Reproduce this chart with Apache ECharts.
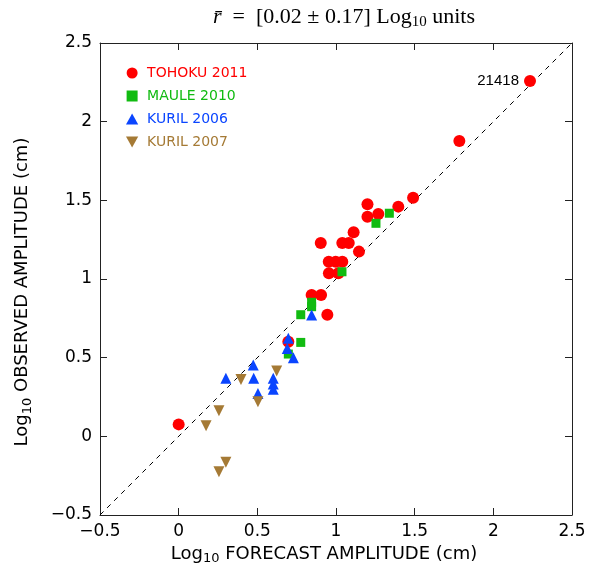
<!DOCTYPE html>
<html><head><meta charset="utf-8">
<script src="https://cdn.jsdelivr.net/npm/echarts@6/dist/echarts.min.js"></script>
<style>html,body{margin:0;padding:0;background:#fff}#c{width:589px;height:574px}</style>
</head><body><div id="c"></div>
<script>
const axisTicks = [-0.5, 0, 0.5, 1, 1.5, 2, 2.5];
const tohoku = [[2.233,2.259],[1.784,1.877],[1.49,1.517],[1.396,1.46],[1.20,1.475],[1.20,1.396],[1.269,1.413],[1.112,1.297],[0.903,1.229],[1.04,1.229],[1.081,1.229],[1.146,1.174],[0.954,1.11],[0.998,1.11],[1.04,1.11],[0.955,1.036],[1.015,1.036],[0.845,0.898],[0.905,0.898],[0.945,0.773],[0.697,0.601],[0.0,0.076]];
const maule = [[1.339,1.418],[1.254,1.354],[1.038,1.046],[0.845,0.852],[0.845,0.824],[0.776,0.773],[0.776,0.597],[0.697,0.523]];
const kuril2006 = [[0.845,0.771],[0.697,0.623],[0.69,0.559],[0.729,0.50],[0.474,0.453],[0.30,0.369],[0.477,0.369],[0.601,0.369],[0.601,0.332],[0.601,0.299],[0.504,0.273]];
const kuril2007 = [[0.396,0.362],[0.623,0.415],[0.504,0.22],[0.256,0.163],[0.174,0.067],[0.30,-0.165],[0.256,-0.225]];
const annotated = {index: 0, text: '21418'};
const refLine = [[-0.5,-0.5],[2.5,2.5]];

const font = 'DejaVu Sans';
const fmt = v => String(v).replace('-', '\u2212');
const subRich = {
  n: {fontFamily: font, fontSize: 18, color: '#000'},
  s: {fontFamily: font, fontSize: 13, color: '#000', padding: [10,0,0,0]}
};
const downTri = 'path://M0,0 L10,0 L5,9 Z';
const upTri = 'path://M5,0 L10,9 L0,9 Z';
function axisCommon(show, pos) {
  return {
    type: 'value', min: -0.5, max: 2.5, interval: 0.5, position: pos,
    axisLine: {show: true, onZero: false, lineStyle: {color: '#222', width: 1}},
    axisTick: {show: true, inside: true, length: 7, lineStyle: {color: '#222'}},
    axisLabel: {show: show, fontFamily: font, fontSize: 17, color: '#000', formatter: fmt, margin: 8},
    splitLine: {show: false}
  };
}
const chart = echarts.init(document.getElementById('c'));
const tohokuData = tohoku.map((p, i) => i === annotated.index ? {value: p, label: {show: true, position: 'left', distance: 5, formatter: annotated.text, fontFamily: 'Liberation Sans', fontSize: 15, color: '#000'}} : p);
chart.setOption({
  animation: false,
  title: {
    text: '{i|r\u0304}  =  [0.02 \u00b1 0.17] Log{s|10} units',
    left: 339, top: 0, textAlign: 'center',
    textStyle: {fontFamily: 'Liberation Serif', fontSize: 22, fontWeight: 'normal', color: '#000',
      rich: {i: {fontFamily: 'Liberation Serif', fontStyle: 'italic', fontSize: 22, color: '#000'},
             s: {fontFamily: 'Liberation Serif', fontSize: 15, color: '#000', padding: [10,0,0,0]}}}
  },
  grid: {left: 100, right: 17, top: 43, bottom: 59},
  legend: {
    orient: 'vertical', left: 121, top: 61, itemGap: 9, itemWidth: 20, itemHeight: 11,
    symbolKeepAspect: true,
    textStyle: {fontFamily: font, fontSize: 14},
    data: [
      {name: 'TOHOKU 2011', icon: 'circle', textStyle: {color: '#ff0000'}},
      {name: 'MAULE 2010', icon: 'path://M0,0 L8,0 L8,8 L0,8 Z', textStyle: {color: '#11bb11'}},
      {name: 'KURIL 2006', icon: upTri, textStyle: {color: '#0a45ff'}},
      {name: 'KURIL 2007', icon: downTri, textStyle: {color: '#a57a35'}}
    ]
  },
  xAxis: [
    Object.assign(axisCommon(true, 'bottom'), {
      name: '{n|Log}{s|10}{n| FORECAST AMPLITUDE (cm)}', nameLocation: 'middle', nameGap: 26,
      nameTextStyle: {rich: subRich, padding: [0,24,0,0]}
    }),
    axisCommon(false, 'top')
  ],
  yAxis: [
    Object.assign(axisCommon(true, 'left'), {
      name: '{n|Log}{s|10}{n| OBSERVED AMPLITUDE (cm)}', nameLocation: 'middle', nameGap: 66,
      nameTextStyle: {rich: subRich, padding: [0,26,0,0]}
    }),
    axisCommon(false, 'right')
  ],
  series: [
    {type: 'line', data: refLine, symbol: 'none', silent: true,
     lineStyle: {color: '#000', width: 1, type: [5,5]}, z: 1},
    {name: 'TOHOKU 2011', type: 'scatter', data: tohokuData, symbol: 'circle', symbolSize: 12,
     itemStyle: {color: '#ff0000', opacity: 1}, z: 2},
    {name: 'MAULE 2010', type: 'scatter', data: maule, symbol: 'rect', symbolSize: 9,
     itemStyle: {color: '#11bb11', opacity: 1}, z: 3},
    {name: 'KURIL 2006', type: 'scatter', data: kuril2006, symbol: 'triangle', symbolSize: 11,
     itemStyle: {color: '#0a45ff', opacity: 1}, z: 4},
    {name: 'KURIL 2007', type: 'scatter', data: kuril2007, symbol: 'triangle', symbolRotate: 180, symbolSize: 11,
     itemStyle: {color: '#a57a35', opacity: 1}, z: 5}
  ]
});
</script></body></html>
